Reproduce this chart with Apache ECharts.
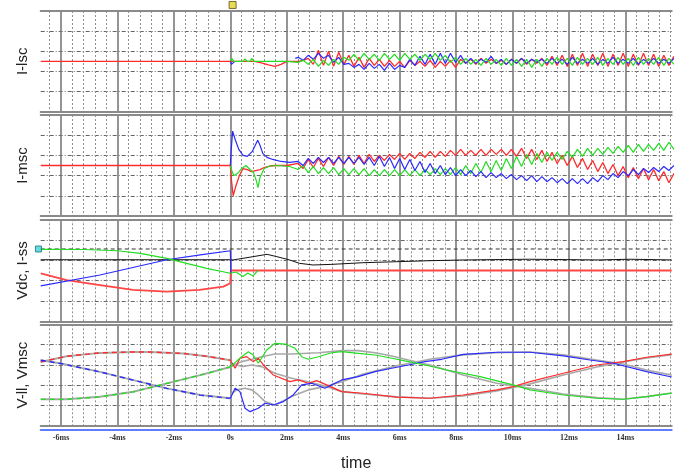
<!DOCTYPE html>
<html><head><meta charset="utf-8">
<script src="https://cdn.jsdelivr.net/npm/echarts@6/dist/echarts.min.js"></script>
<style>html,body{margin:0;padding:0;background:#fff}#c{width:676px;height:473px}</style>
</head><body><div id="c"></div>
<script>
// ---------- axis extents (ms) ----------
const xMin = -6.72, xMax = 15.64;
const panelNames = ['I-lsc', 'I-msc', 'Vdc, I-ss', 'V-ll, Vmsc'];
const xAxisName = 'time';

// ---------- shared sample times of the oscillating part (ms) ----------
const tOsc = [
  2.4, 2.58, 2.76, 2.94, 3.12, 3.3, 3.48, 3.66, 3.84, 4.02,
  4.2, 4.38, 4.56, 4.74, 4.92, 5.1, 5.28, 5.46, 5.64, 5.82,
  6.0, 6.18, 6.36, 6.54, 6.72, 6.9, 7.08, 7.26, 7.44, 7.62,
  7.8, 7.98, 8.16, 8.34, 8.52, 8.7, 8.88, 9.06, 9.24, 9.42,
  9.6, 9.78, 9.96, 10.14, 10.32, 10.5, 10.68, 10.86, 11.04, 11.22,
  11.4, 11.58, 11.76, 11.94, 12.12, 12.3, 12.48, 12.66, 12.84, 13.02,
  13.2, 13.38, 13.56, 13.74, 13.92, 14.1, 14.28, 14.46, 14.64, 14.82,
  15.0, 15.18, 15.36, 15.54, 15.72];

// ---------- Panel 1 : I-lsc ----------
const p1RedPreT = [-6.72, 0.85, 1.1, 1.35, 1.58, 1.8, 2.0];
const p1RedPreV = [50, 50, 48.5, 46.5, 45, 47, 50];
const p1GreenPreT = [0, 0.05, 0.12, 0.45, 0.52, 0.6, 0.7, 0.76, 0.84, 2.0];
const p1GreenPreV = [50, 53, 50, 50, 52.5, 50, 50, 53, 50, 50];
const p1BluePreT = [0, 0.04, 0.1, 0.16, 0.2, 2.3];
const p1BluePreV = [50, 47, 48.5, 50, null, 53];
const p1RedOsc = [
  50, 51, 53, 47, 61, 46, 60, 45, 59, 47,
  56, 45, 54, 44, 53, 46, 52, 45, 51, 45,
  50, 44, 51, 46, 50, 45, 51, 44, 50, 45,
  51, 44, 52, 48, 52, 47, 53, 48, 52, 48,
  51, 47, 52, 48, 53, 47, 52, 48, 53, 46,
  55, 46, 56, 45, 57, 46, 58, 45, 57, 46,
  58, 45, 57, 46, 58, 45, 57, 46, 58, 46,
  57, 45, 56, 46, 55];
const p1GreenOsc = [
  49, 51, 47, 52, 45, 51, 46, 52, 47, 54,
  51, 57, 51, 58, 52, 57, 51, 58, 52, 57,
  51, 58, 52, 57, 51, 57, 52, 58, 51, 56,
  49, 54, 47, 53, 47, 52, 46, 53, 47, 52,
  46, 53, 46, 52, 45, 52, 44, 52, 45, 53,
  47, 54, 47, 53, 46, 54, 47, 53, 47, 54,
  46, 53, 47, 54, 47, 53, 46, 54, 47, 53,
  47, 54, 46, 53, 47];
const p1BlueOsc = [
  54, 51, 56, 52, 58, 53, 56, 49, 54, 47,
  48, 44, 47, 42, 48, 43, 47, 41, 48, 42,
  46, 44, 52, 46, 55, 47, 57, 47, 58, 48,
  58, 49, 56, 48, 53, 48, 52, 49, 55, 48,
  52, 47, 52, 48, 53, 48, 52, 49, 52, 48,
  53, 48, 52, 47, 54, 48, 52, 48, 53, 47,
  52, 48, 54, 48, 52, 48, 53, 47, 52, 48,
  53, 48, 52, 48, 53];

// ---------- Panel 2 : I-msc ----------
const p2RedPreT = [-6.72, 0, 0.04, 0.1, 0.2, 0.32, 0.45, 0.6, 0.75, 0.9, 1.05, 1.2, 1.4, 1.6, 2.0];
const p2RedPreV = [50, 50, 35, 20, 30, 40, 47, 46, 44, 45, 46, 48, 49.5, 50, 50];
const p2GreenPreT = [0, 0.05, 0.12, 0.25, 0.4, 0.55, 0.7, 0.82, 0.92, 0.98, 1.05, 1.2, 1.4, 1.7, 2.1];
const p2GreenPreV = [50, 45, 40, 42, 47, 50, 46, 43, 35, 28, 38, 47, 49.5, 50, 49];
const p2BluePreT = [0, 0.03, 0.08, 0.18, 0.3, 0.45, 0.6, 0.78, 0.9, 0.97, 1.05, 1.15, 1.3, 1.5, 1.8, 2.1];
const p2BluePreV = [50, 65, 84, 75, 66, 60, 59, 64, 71, 75, 70, 62, 58, 56, 54, 53];
const p2RedOsc = [
  52, 47, 56, 48, 57, 49, 58, 50, 59, 51,
  59, 51, 60, 52, 61, 54, 60, 55, 61, 56,
  62, 56, 62, 57, 63, 58, 64, 58, 64, 59,
  65, 60, 66, 60, 65, 60, 66, 60, 66, 61,
  66, 60, 66, 59, 67, 57, 66, 56, 65, 54,
  63, 52, 60, 50, 59, 48, 57, 46, 55, 44,
  53, 42, 51, 40, 49, 38, 48, 37, 47, 36,
  46, 35, 44, 33, 42];
const p2GreenOsc = [
  46, 50, 43, 49, 42, 48, 42, 48, 41, 47,
  41, 47, 41, 47, 40, 46, 40, 46, 40, 46,
  40, 46, 40, 46, 40, 46, 41, 47, 41, 47,
  41, 48, 41, 50, 42, 52, 43, 54, 44, 55,
  45, 57, 47, 59, 49, 61, 51, 62, 53, 63,
  55, 63, 56, 64, 58, 66, 59, 67, 60, 67,
  61, 68, 62, 69, 63, 70, 63, 71, 64, 71,
  65, 72, 65, 73, 66];
const p2BlueOsc = [
  54, 50, 57, 52, 58, 53, 58, 52, 58, 52,
  58, 52, 58, 51, 58, 50, 59, 49, 58, 47,
  57, 46, 56, 45, 54, 43, 52, 42, 50, 41,
  48, 40, 46, 40, 45, 39, 44, 38, 43, 38,
  42, 37, 41, 36, 40, 35, 40, 34, 39, 34,
  38, 33, 37, 32, 37, 32, 37, 32, 38, 34,
  40, 36, 42, 38, 44, 40, 46, 41, 47, 43,
  48, 44, 49, 45, 50];

// ---------- Panel 3 : Vdc, I-ss ----------
const p3DashT = [-6.72, 15.64];
const p3DashV = [71, 71];
const p3GreenT = [-6.72, -5.2, -4.0, -3.2, -2.25, -1.55, -0.84, 0, 0.2, 0.45, 0.62, 0.8, 0.98];
const p3GreenV = [70.7, 70.5, 69.3, 66.8, 61.9, 57, 52.1, 47.3, 48.5, 44.2, 47.5, 44.7, 50];
const p3BlueT = [-6.72, -4.62, -2.25, -1.0, 0, 0.02];
const p3BlueV = [34.9, 45.6, 60.5, 65.5, 69.3, 47];
const p3RedT = [-6.72, -5.8, -4.62, -3.45, -2.25, -1.1, -0.25, 0, 0.02, 15.64];
const p3RedV = [47.3, 40.7, 35.8, 31, 29.3, 31, 34.2, 37.5, 50, 50];
const p3BlackT = [-6.72, 0, 0.1, 0.8, 1.3, 1.65, 2.1, 2.45, 2.93, 3.6, 4.7, 5.9, 7.1, 8.3, 10.6, 13.0, 14.2, 15.64];
const p3BlackV = [60.5, 60.5, 60.3, 63.5, 65.8, 63.5, 60.3, 57, 55.4, 56, 57.6, 58.6, 59.6, 60.3, 61, 60.3, 61, 60.3];

// ---------- Panel 4 : V-ll, Vmsc ----------
const p4RedPreT = [-6.72, -5.8, -4.62, -3.44, -2.85, -1.66, -0.84, 0];
const p4RedPreV = [63, 68.6, 71.9, 72.8, 72.8, 71.3, 68.6, 64.7];
const p4BluePreT = [-6.72, -6.0, -4.62, -3.44, -2.25, -1.07, 0];
const p4BluePreV = [64.7, 61.4, 53.2, 45.1, 37, 30.4, 27.2];
const p4GreenPreT = [-6.72, -5.8, -4.62, -3.44, -2.25, -1.07, 0];
const p4GreenPreV = [26.2, 26.2, 28.7, 33.6, 41.9, 50, 58.1];

const p4GreenT = [0, 0.05, 0.4, 0.64, 0.81, 0.99, 1.29, 1.58, 1.94, 2.29, 2.53, 2.76, 3.12, 3.59, 3.95, 4.53, 5.13, 5.72, 6.31, 6.9, 7.67, 8.85, 10.02, 10.62, 11.8, 12.98, 13.92, 14.75, 15.64];
const p4GreenV = [58.1, 58.3, 68.1, 73, 69.8, 61.7, 74.7, 81.3, 80.6, 76.4, 68.1, 65.6, 68.1, 72, 73.1, 71.5, 69.8, 66.6, 63.3, 60, 55.1, 48.5, 40.4, 35.5, 30.5, 27.3, 26.3, 28.9, 32.4];
const p4RedT = [0, 0.17, 0.34, 0.58, 0.81, 0.99, 1.17, 1.52, 2.11, 2.41, 2.76, 3.06, 3.41, 3.95, 4.71, 5.89, 7.07, 8.25, 9.44, 10.02, 10.62, 11.8, 12.98, 13.92, 14.75, 15.64];
const p4RedV = [64.7, 56.8, 66.6, 68.2, 63.3, 66.6, 60, 50.2, 43.6, 45.3, 42, 44.6, 40.4, 33.8, 32.2, 28.3, 27.3, 30.5, 35.5, 38.7, 43.6, 51.9, 60, 63.3, 67.6, 70.7];
const p4BlueT = [0, 0.17, 0.34, 0.52, 0.7, 0.99, 1.23, 1.52, 1.88, 2.23, 2.53, 2.88, 3.35, 3.59, 3.95, 4.53, 5.13, 5.72, 6.31, 6.9, 7.49, 8.25, 9.44, 10.62, 11.8, 12.74, 13.57, 14.75, 15.64];
const p4BlueV = [27.2, 37.1, 33.8, 17.5, 14.1, 17.5, 22.4, 20.7, 24, 30.5, 40.4, 42, 37.1, 40.4, 45.3, 48.5, 53.4, 56.8, 60, 63.3, 65.6, 70.5, 72.5, 72.5, 68.9, 64.9, 61.7, 53.4, 48.2];
const p4GrayAT = [0, 0.05, 0.4, 0.76, 1.23, 1.58, 2.17, 3.12, 3.95, 4.53, 5.13, 5.72, 6.31, 7.07, 8.25, 9.44, 10.62, 11.8, 12.98, 13.92, 14.75, 15.64];
const p4GrayAV = [58.1, 60, 63.3, 65.6, 68.9, 70.8, 70.8, 72.1, 74.1, 74.1, 72.1, 68.9, 64.9, 60, 50.2, 42, 37.1, 31.5, 27.9, 26.3, 28.9, 32.4];
const p4GrayBT = [0, 0.05, 0.4, 0.76, 1.11, 1.58, 2.17, 2.76, 3.35, 3.95, 4.71, 5.89, 7.07, 8.25, 9.44, 10.62, 11.8, 12.98, 13.92, 14.75, 15.64];
const p4GrayBV = [64.7, 61.7, 58.4, 60, 58.4, 51.9, 47, 43.6, 39.4, 33.8, 31.5, 28.6, 27.3, 29.6, 34.5, 41.4, 50.2, 58.1, 63, 66.9, 70.1];
const p4GrayCT = [0, 0.05, 0.23, 0.52, 0.76, 0.99, 1.23, 1.58, 2.17, 2.76, 3.35, 3.95, 4.71, 5.89, 7.07, 8.25, 9.44, 10.62, 11.8, 12.98, 13.92, 14.75, 15.64];
const p4GrayCV = [27.2, 32.2, 35.5, 37.1, 35.5, 30.5, 24, 20.7, 28.9, 35.5, 38.7, 43.6, 51.2, 59.1, 65.6, 69.9, 72.1, 72.8, 69.9, 64.9, 61, 55.1, 50];

// ---------- markers ----------
const triggerMark = [[0.08, 106]];
const cursorMark = [[-6.8, 71]];

// ---------- helpers ----------
function join(preT, preV, oscT, oscV) {
  const d = preT.map((t, i) => [t, preV[i]]);
  if (oscT) oscT.forEach((t, i) => d.push([t, oscV[i]]));
  return d;
}
const RED = '#ff2a2a', GREEN = '#22dd22', BLUE = '#2a2aff', GRAY = '#a8a8a8', BLACK = '#111';
function line(g, data, color, width, z, type) {
  return {
    type: 'line', xAxisIndex: g * 2, yAxisIndex: g, data: data,
    showSymbol: false, symbol: 'none', animation: false, silent: true, z: z,
    lineStyle: { color: color, width: width, type: type || 'solid' }
  };
}

const gridBox = [
  { top: 11, height: 100.7 },
  { top: 115, height: 101 },
  { top: 219.3, height: 102.4 },
  { top: 324.3, height: 101.7 }
];
const grids = gridBox.map(b => ({ left: 40.7, width: 631, top: b.top, height: b.height, containLabel: false, outerBoundsMode: 'none' }));

const borderStyle = { color: '#8a8a8a', width: 2 };
const xAxes = [];
for (let g = 0; g < 4; g++) {
  xAxes.push({
    type: 'value', gridIndex: g, min: xMin, max: xMax, minInterval: 2, maxInterval: 2, splitNumber: 11,
    position: 'bottom',
    axisLine: { show: true, onZero: false, lineStyle: borderStyle },
    axisTick: { show: false },
    minorTick: { show: false, splitNumber: 5 },
    axisLabel: {
      show: g === 3, margin: 8, fontSize: 8, fontWeight: 'bold', color: '#333',
      fontFamily: 'Liberation Serif, DejaVu Serif, serif',
      formatter: v => (Math.abs(v % 2) < 1e-9 ? (Math.abs(v) < 1e-9 ? '0s' : Math.round(v) + 'ms') : ''),
      showMinLabel: false, showMaxLabel: false
    },
    splitLine: { show: true, showMinLine: false, showMaxLine: false, lineStyle: { color: '#7a7a7a', width: 1.6 } },
    minorSplitLine: { show: true, lineStyle: { color: '#8f8f8f', width: 1, type: [2, 2] } },
    name: g === 3 ? xAxisName : '',
    nameLocation: 'middle', nameGap: 30,
    nameTextStyle: { fontSize: 16, color: '#222', fontFamily: 'Liberation Sans, Arial, sans-serif' }
  });
  xAxes.push({
    type: 'value', gridIndex: g, min: xMin, max: xMax, position: 'top',
    axisLine: { show: true, onZero: false, lineStyle: borderStyle },
    axisTick: { show: false }, axisLabel: { show: false }, splitLine: { show: false }
  });
}
xAxes.push({
  type: 'value', gridIndex: 3, min: xMin, max: xMax, position: 'bottom', offset: 4,
  axisLine: { show: true, onZero: false, lineStyle: { color: '#5f7dff', width: 2 } },
  axisTick: { show: false }, axisLabel: { show: false }, splitLine: { show: false }
});

const yAxes = panelNames.map((n, g) => ({
  type: 'value', gridIndex: g, min: 0, max: 100, interval: 20,
  axisLine: { show: false }, axisTick: { show: false }, axisLabel: { show: false },
  splitLine: { show: true, showMinLine: false, showMaxLine: false, lineStyle: { color: '#666', width: 1, type: [4, 2, 1, 2] } },
  name: n, nameLocation: 'middle', nameGap: 10,
  nameTextStyle: { fontSize: 15, color: '#222', fontFamily: 'Liberation Sans, Arial, sans-serif' }
}));

const series = [
  // panel 1
  line(0, join(p1RedPreT, p1RedPreV, tOsc, p1RedOsc), RED, 1.3, 3),
  line(0, join(p1BluePreT, p1BluePreV, tOsc, p1BlueOsc), BLUE, 1.2, 4),
  line(0, join(p1GreenPreT, p1GreenPreV, tOsc, p1GreenOsc), GREEN, 1.2, 5),
  // panel 2
  line(1, join(p2RedPreT, p2RedPreV, tOsc, p2RedOsc), RED, 1.3, 3),
  line(1, join(p2GreenPreT, p2GreenPreV, tOsc, p2GreenOsc), GREEN, 1.2, 4),
  line(1, join(p2BluePreT, p2BluePreV, tOsc, p2BlueOsc), BLUE, 1.2, 5),
  // panel 3
  line(2, join(p3DashT, p3DashV), '#333', 1, 2, [4, 3]),
  line(2, join(p3RedT, p3RedV), '#ff4545', 1.8, 3),
  line(2, join(p3BlackT, p3BlackV), BLACK, 1, 4),
  line(2, join(p3BlueT, p3BlueV), BLUE, 1.2, 5),
  line(2, join(p3GreenT, p3GreenV), GREEN, 1.2, 6),
  // panel 4 gray references
  line(3, join(p4RedPreT, p4RedPreV), GRAY, 2, 2),
  line(3, join(p4BluePreT, p4BluePreV), GRAY, 2, 2),
  line(3, join(p4GreenPreT, p4GreenPreV), GRAY, 2, 2),
  line(3, join(p4GrayAT, p4GrayAV), GRAY, 1.6, 2),
  line(3, join(p4GrayBT, p4GrayBV), GRAY, 1.6, 2),
  line(3, join(p4GrayCT, p4GrayCV), GRAY, 1.6, 2),
  // panel 4 colored
  line(3, join(p4RedPreT, p4RedPreV), RED, 1.4, 3, [5, 4]),
  line(3, join(p4BluePreT, p4BluePreV), BLUE, 1.4, 3, [5, 4]),
  line(3, join(p4GreenPreT, p4GreenPreV), GREEN, 1.4, 3, [5, 4]),
  line(3, join(p4RedT, p4RedV), RED, 1.2, 4),
  line(3, join(p4BlueT, p4BlueV), BLUE, 1.2, 4),
  line(3, join(p4GreenT, p4GreenV), GREEN, 1.2, 4),
  // markers
  { type: 'scatter', xAxisIndex: 0, yAxisIndex: 0, data: triggerMark, clip: false, silent: true, animation: false, z: 10,
    symbol: 'rect', symbolSize: 7, itemStyle: { color: '#e2d22a', borderColor: '#5a4a10', borderWidth: 1 } },
  { type: 'scatter', xAxisIndex: 4, yAxisIndex: 2, data: cursorMark, clip: false, silent: true, animation: false, z: 10,
    symbol: 'rect', symbolSize: 6, itemStyle: { color: '#3cd6d6', borderColor: '#1f6f80', borderWidth: 1 } }
];

const chart = echarts.init(document.getElementById('c'), null, { renderer: 'canvas' });
chart.setOption({
  animation: false,
  backgroundColor: '#ffffff',
  grid: grids,
  xAxis: xAxes,
  yAxis: yAxes,
  series: series
});
</script>
</body></html>
